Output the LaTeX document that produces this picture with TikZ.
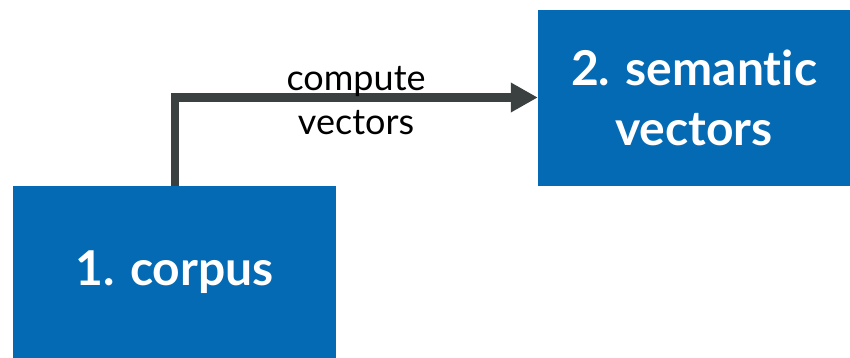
\documentclass[tikz,border=0pt]{standalone}
\usepackage{fontspec}
\setmainfont{Lato}[RawFeature=-liga]
\usetikzlibrary{arrows.meta}
\definecolor{boxblue}{HTML}{036AB3}
\definecolor{arrowgray}{HTML}{3B4040}
\begin{document}
\begin{tikzpicture}[x=1pt,y=-1pt,
  bluebox/.style={fill=boxblue,draw=none,text=white,font=\fontsize{48}{60}\selectfont\bfseries,align=center,inner sep=0pt},
  conn/.style={draw=arrowgray,line width=8.5pt,-{Triangle[length=27pt,width=28pt]}},
  lbl/.style={font=\fontsize{36}{44}\selectfont,align=center,text=black,inner sep=0pt}]
\useasboundingbox (0,0) rectangle (850,358);
\fill[boxblue] (13,186) rectangle (336,358);
\fill[boxblue] (538,10) rectangle (850,186);
\node[bluebox,minimum width=323pt,minimum height=172pt] (corpus) at (174.5,272) {1. corpus};
\node[bluebox,minimum width=312pt,minimum height=176pt] (sem) at (694,98) {2. semantic\\vectors};
\draw[conn] (175,186) |- (sem.west |- 0,97.5);
\node[lbl] (lab) at (356,101) {compute\\vectors};
\end{tikzpicture}
\end{document}
